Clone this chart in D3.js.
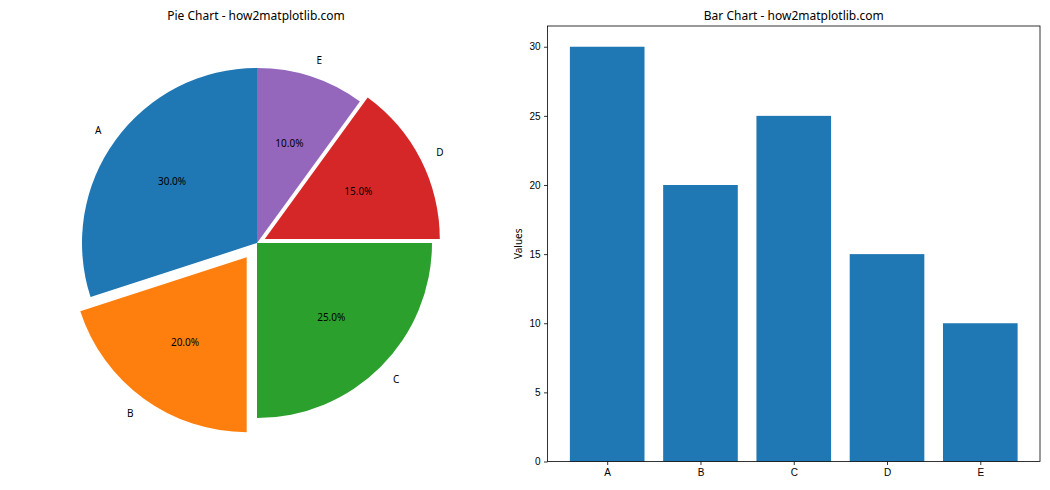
<!DOCTYPE html>
<html><head><meta charset="utf-8">
<script src="https://cdn.jsdelivr.net/npm/d3@7"></script>
<style>body{margin:0;background:#fff}svg{display:block;font-family:"Noto Sans","Open Sans",sans-serif}</style>
</head><body>
<svg id="c" width="1050" height="490"></svg>
<script>
const categories = ["A","B","C","D","E"];
const values = [30,20,25,15,10];
const explode = [0,0.1,0,0.05,0];
const colors = ["#1f77b4","#ff7f0e","#2ca02c","#d62728","#9467bd"];
const yTicks = [0,5,10,15,20,25,30];

const svg = d3.select("#c");

// ---- Pie ----
const cx = 257, cy = 243, R = 175;
svg.append("text").attr("x",256).attr("y",20).attr("text-anchor","middle")
  .attr("font-size",12).text("Pie Chart - how2matplotlib.com");
const total = d3.sum(values);
const pie = d3.pie().sort(null).startAngle(0).endAngle(-2*Math.PI);
const arcs = pie(values);
const arc = d3.arc().innerRadius(0).outerRadius(R);
const g = svg.append("g").attr("transform",`translate(${cx},${cy})`);
arcs.forEach((a,i)=>{
  const m = (a.startAngle+a.endAngle)/2;
  const d = explode[i]*R;
  const dx = Math.sin(m)*d, dy = -Math.cos(m)*d;
  const wg = g.append("g").attr("transform",`translate(${dx},${dy})`);
  wg.append("path").attr("d",arc(a)).attr("fill",colors[i]);
  const lx = Math.sin(m)*1.1*R, ly = -Math.cos(m)*1.1*R;
  wg.append("text").attr("x",lx).attr("y",ly)
    .attr("text-anchor", lx < 0 ? "end" : "start")
    .attr("dominant-baseline","central").attr("font-size",10).text(categories[i]);
  const px = Math.sin(m)*0.6*R, py = -Math.cos(m)*0.6*R;
  wg.append("text").attr("x",px).attr("y",py).attr("text-anchor","middle")
    .attr("dominant-baseline","central").attr("font-size",10)
    .text((values[i]/total*100).toFixed(1)+"%");
});

// ---- Bar ----
const L = 547.5, Rt = 1040, T = 26, B = 461.5;
const x = d3.scaleLinear().domain([-0.64,4.64]).range([L,Rt]);
const y = d3.scaleLinear().domain([0,31.5]).range([B,T]);
svg.append("text").attr("x",(L+Rt)/2).attr("y",20).attr("text-anchor","middle")
  .attr("font-size",12).text("Bar Chart - how2matplotlib.com");
svg.append("g").selectAll("rect").data(values).join("rect")
  .attr("x",(d,i)=>x(i-0.4)).attr("width",(d,i)=>x(i+0.4)-x(i-0.4))
  .attr("y",d=>y(d)).attr("height",d=>y(0)-y(d)).attr("fill",colors[0]);
const xa = svg.append("g").attr("transform",`translate(0,${B})`)
  .call(d3.axisBottom(x).tickValues(d3.range(categories.length)).tickFormat(i=>categories[i]).tickSize(3.5).tickPadding(3.5));
const ya = svg.append("g").attr("transform",`translate(${L},0)`)
  .call(d3.axisLeft(y).tickValues(yTicks).tickSize(3.5).tickPadding(3.5));
[xa,ya].forEach(a=>{a.select(".domain").remove();a.selectAll("text").attr("font-size",10).attr("font-family",null).attr("fill","#000");a.selectAll("line").attr("stroke","#000").attr("stroke-width",0.8);});
svg.append("rect").attr("x",L).attr("y",T).attr("width",Rt-L).attr("height",B-T)
  .attr("fill","none").attr("stroke","#000").attr("stroke-width",0.8);
svg.append("text").attr("transform",`translate(522,${(T+B)/2}) rotate(-90)`)
  .attr("text-anchor","middle").attr("font-size",10).text("Values");
</script>
</body></html>
